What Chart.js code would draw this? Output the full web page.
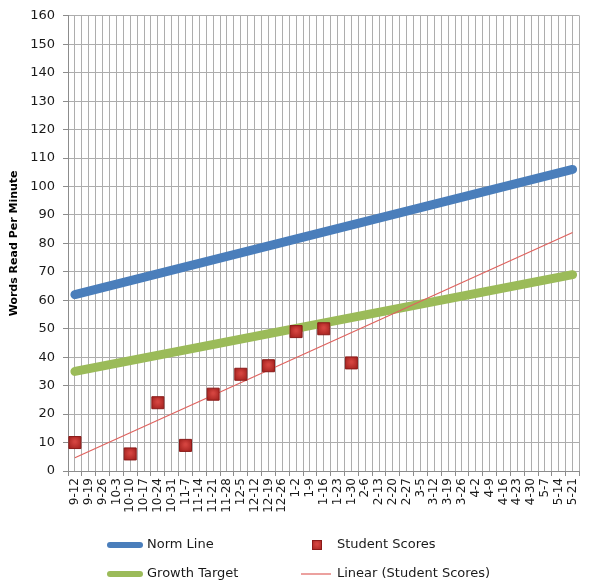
<!DOCTYPE html>
<html>
<head>
<meta charset="utf-8">
<title>Words Read Per Minute</title>
<script src="https://cdn.jsdelivr.net/npm/chart.js@4.4.1/dist/chart.umd.min.js"></script>
<style>
  html, body { margin: 0; padding: 0; background: #ffffff; }
  #wrap { width: 589px; height: 582px; }
</style>
</head>
<body>
<div id="wrap"><canvas id="chart" width="589" height="582"></canvas></div>
<script>
// Weekly assessment dates (month-day)
const weeks = ['9-12','9-19','9-26','10-3','10-10','10-17','10-24','10-31','11-7','11-14','11-21','11-28',
               '12-5','12-12','12-19','12-26','1-2','1-9','1-16','1-23','1-30','2-6','2-13','2-20','2-27',
               '3-5','3-12','3-19','3-26','4-2','4-9','4-16','4-23','4-30','5-7','5-14','5-21'];

// Norm line: start and end of the year
const normWeeks  = ['9-12', '5-21'];
const normValues = [62, 106];

// Growth target: start and end of the year
const growthWeeks  = ['9-12', '5-21'];
const growthValues = [35, 69];

// Student scores
const scoreWeeks  = ['9-12','10-10','10-24','11-7','11-21','12-5','12-19','1-2','1-16','1-30'];
const scoreValues = [10, 6, 24, 9, 27, 34, 37, 49, 50, 38];

// Value axis
const yMin = 0, yMax = 160, yStep = 10;

const toPoints = (ws, vs) => ws.map((w, i) => ({ x: weeks.indexOf(w), y: vs[i] }));

// Least-squares trend through the student scores, spanning the whole year
function linearTrend(points) {
  const n = points.length;
  const mx = points.reduce((s, p) => s + p.x, 0) / n;
  const my = points.reduce((s, p) => s + p.y, 0) / n;
  let sxy = 0, sxx = 0;
  points.forEach(p => { sxy += (p.x - mx) * (p.y - my); sxx += (p.x - mx) * (p.x - mx); });
  const slope = sxy / sxx, icpt = my - slope * mx;
  const x0 = 0, x1 = weeks.length - 1;
  return [{ x: x0, y: icpt + slope * x0 }, { x: x1, y: icpt + slope * x1 }];
}

const scorePoints = toPoints(scoreWeeks, scoreValues);

const MARKER_LIGHT = '#d4443f';
const MARKER_DARK = '#a1201d';
const MARKER_EDGE = '#8a1a18';

function markerGradient(ctx, cx, cy, r) {
  const g = ctx.createRadialGradient(cx, cy - 1, 1, cx, cy, r);
  g.addColorStop(0, MARKER_LIGHT);
  g.addColorStop(1, MARKER_DARK);
  return g;
}

// Two-column legend drawn under the plot
const gridLegend = {
  id: 'gridLegend',
  afterDraw(chart, args, opts) {
    const ctx = chart.ctx;
    ctx.save();
    ctx.font = opts.font;
    ctx.textBaseline = 'middle';
    ctx.textAlign = 'left';
    opts.items.forEach(item => {
      const ds = chart.data.datasets[item.dataset];
      const col = opts.columns[item.col];
      const y = opts.rows[item.row];
      if (item.kind === 'line') {
        ctx.beginPath();
        ctx.lineCap = item.cap;
        ctx.strokeStyle = ds.borderColor;
        ctx.lineWidth = item.width;
        const inset = item.cap === 'round' ? item.width / 2 : 0;
        ctx.moveTo(col.sampleLeft + inset, y);
        ctx.lineTo(col.sampleRight - inset, y);
        ctx.stroke();
      } else {
        const cx = (col.sampleLeft + col.sampleRight) / 2 + item.shift;
        const s = item.size;
        ctx.fillStyle = markerGradient(ctx, cx, y, s * 0.7);
        ctx.fillRect(cx - s / 2, y - s / 2, s, s);
        ctx.strokeStyle = MARKER_EDGE;
        ctx.lineWidth = 1;
        ctx.strokeRect(cx - s / 2 + 0.5, y - s / 2 + 0.5, s - 1, s - 1);
      }
      ctx.fillStyle = opts.color;
      ctx.fillText(ds.label, col.textX, y);
    });
    ctx.restore();
  }
};

function markerFill(c) {
  if (c.type !== 'data' || !c.parsed) return '#c0504d';
  const px = c.chart.scales.x.getPixelForValue(c.parsed.x);
  const py = c.chart.scales.y.getPixelForValue(c.parsed.y);
  if (!isFinite(px) || !isFinite(py)) return '#c0504d';
  return markerGradient(c.chart.ctx, px, py, 8);
}

new Chart(document.getElementById('chart'), {
  type: 'line',
  data: {
    datasets: [
      {
        label: 'Norm Line',
        data: toPoints(normWeeks, normValues),
        borderColor: '#4a7ebb',
        borderWidth: 9,
        borderCapStyle: 'round',
        pointRadius: 0,
        order: 3
      },
      {
        label: 'Student Scores',
        data: scorePoints,
        showLine: false,
        pointStyle: 'rect',
        pointRadius: 8.5,
        pointBackgroundColor: markerFill,
        pointBorderColor: MARKER_EDGE,
        pointBorderWidth: 1,
        order: 0
      },
      {
        label: 'Growth Target',
        data: toPoints(growthWeeks, growthValues),
        borderColor: '#9bbb59',
        borderWidth: 9,
        borderCapStyle: 'round',
        pointRadius: 0,
        order: 2
      },
      {
        label: 'Linear (Student Scores)',
        data: linearTrend(scorePoints),
        borderColor: '#e0625e',
        borderWidth: 1.2,
        pointRadius: 0,
        order: 1
      }
    ]
  },
  options: {
    responsive: false,
    devicePixelRatio: 1,
    animation: false,
    events: [],
    layout: { padding: { top: 14, right: 1, bottom: 0, left: 0 } },
    plugins: {
      legend: { display: false },
      tooltip: { enabled: false },
      gridLegend: {
        font: '13px "DejaVu Sans"',
        color: '#1a1a1a',
        rows: [545, 574],
        columns: [
          { sampleLeft: 107, sampleRight: 143, textX: 147 },
          { sampleLeft: 301, sampleRight: 331, textX: 337 }
        ],
        items: [
          { dataset: 0, col: 0, row: 0, kind: 'line', width: 6, cap: 'round' },
          { dataset: 2, col: 0, row: 1, kind: 'line', width: 6, cap: 'round' },
          { dataset: 1, col: 1, row: 0, kind: 'marker', size: 10, shift: 1 },
          { dataset: 3, col: 1, row: 1, kind: 'line', width: 1.2, cap: 'butt' }
        ]
      }
    },
    scales: {
      x: {
        type: 'linear',
        min: -0.5,
        max: weeks.length - 0.5,
        afterBuildTicks(scale) {
          const t = [];
          for (let v = -0.5; v <= weeks.length - 0.5 + 1e-9; v += 0.5) t.push({ value: v });
          scale.ticks = t;
        },
        afterFit(scale) {
          scale.height = 111;
          scale.paddingLeft = 0;
          scale.paddingRight = 0;
        },
        ticks: {
          autoSkip: false,
          minRotation: 90,
          maxRotation: 90,
          padding: 2,
          color: '#1a1a1a',
          font: { family: 'DejaVu Sans', size: 12 },
          callback: v => Number.isInteger(v) ? weeks[v] : ''
        },
        grid: {
          color: '#adadad',
          lineWidth: 1,
          tickLength: 5,
          tickColor: c => (c.tick && Number.isInteger(c.tick.value + 0.5)) ? '#8c8c8c' : 'rgba(0,0,0,0)'
        },
        border: { color: '#8c8c8c', width: 1 }
      },
      y: {
        min: yMin,
        max: yMax,
        afterFit(scale) { scale.width = 68; },
        ticks: {
          stepSize: yStep,
          padding: 8,
          color: '#1a1a1a',
          font: { family: 'DejaVu Sans', size: 13 }
        },
        grid: { color: '#adadad', lineWidth: 1, tickLength: 5, tickColor: '#8c8c8c' },
        border: { color: '#8c8c8c', width: 1 },
        title: {
          display: true,
          text: 'Words Read Per Minute',
          color: '#000000',
          font: { family: 'DejaVu Sans', size: 11, weight: 'bold' },
          padding: { top: 8, bottom: 0 }
        }
      }
    }
  },
  plugins: [gridLegend]
});
</script>
</body>
</html>
